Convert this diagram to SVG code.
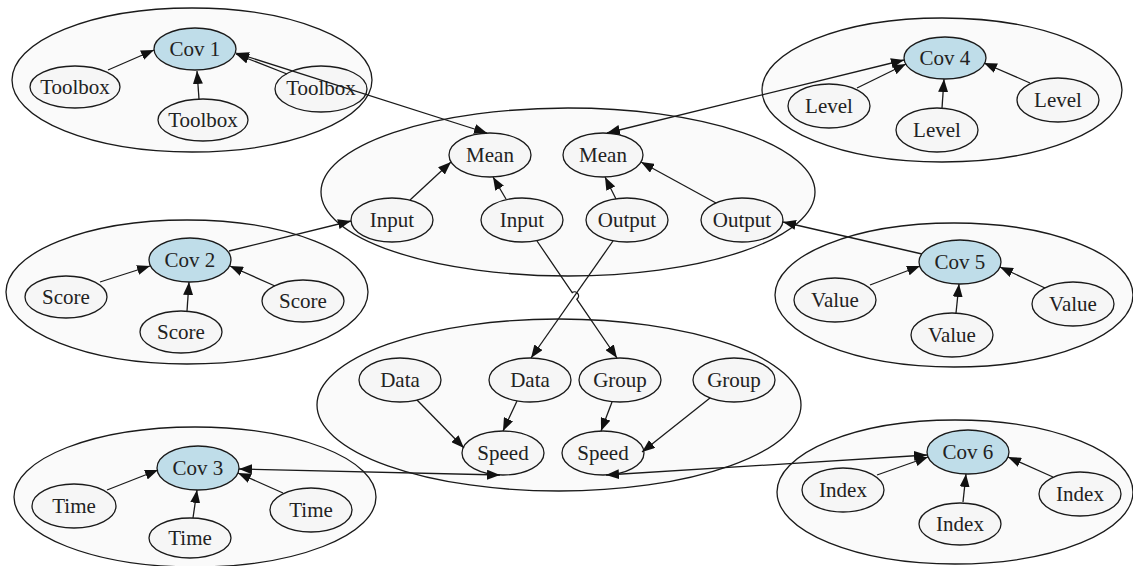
<svg xmlns="http://www.w3.org/2000/svg" width="1133" height="566" viewBox="0 0 1133 566">
<style>
.cl{fill:#fafafa;stroke:#1a1a1a;stroke-width:1.3}
.nd{fill:#f6f6f6;stroke:#1a1a1a;stroke-width:1.3}
.cv{fill:#bfdde9;stroke:#1a1a1a;stroke-width:1.3}
.ed{fill:none;stroke:#1a1a1a;stroke-width:1.3;marker-end:url(#ah)}
.bi{marker-start:url(#ah)}
text{font-family:"Liberation Serif","DejaVu Serif",serif;font-size:21px;fill:#222;text-anchor:middle}
</style>
<defs>
<marker id="ah" viewBox="0 0 13 10" refX="13" refY="5" markerWidth="13" markerHeight="10" markerUnits="userSpaceOnUse" orient="auto-start-reverse">
<path d="M0,0 L13,5 L0,10 z" fill="#111"/>
</marker>
</defs>
<g id="clusters">
<ellipse id="cluster1" class="cl" cx="192" cy="80" rx="180" ry="72"/>
<ellipse id="cluster2" class="cl" cx="187" cy="292" rx="181" ry="72"/>
<ellipse id="cluster3" class="cl" cx="195" cy="497" rx="181" ry="70"/>
<ellipse id="cluster4" class="cl" cx="942" cy="90" rx="180" ry="72"/>
<ellipse id="cluster5" class="cl" cx="954" cy="295" rx="179" ry="72"/>
<ellipse id="cluster6" class="cl" cx="955" cy="492" rx="178" ry="72"/>
<ellipse id="clusterTop" class="cl" cx="568" cy="192" rx="247" ry="84"/>
<ellipse id="clusterBottom" class="cl" cx="559" cy="405" rx="242" ry="86"/>
</g>
<g id="cov1"><ellipse class="cv" cx="195" cy="49" rx="41" ry="21"/><text x="195" y="56">Cov 1</text></g>
<g id="toolbox1"><ellipse class="nd" cx="75" cy="87" rx="45" ry="21"/><text x="75" y="94">Toolbox</text></g>
<g id="toolbox2"><ellipse class="nd" cx="203" cy="120" rx="45" ry="21"/><text x="203" y="127">Toolbox</text></g>
<g id="toolbox3"><ellipse class="nd" cx="321" cy="89" rx="46" ry="23"/><text x="321" y="95">Toolbox</text></g>
<g id="cov2"><ellipse class="cv" cx="190" cy="260" rx="41" ry="22"/><text x="190" y="267">Cov 2</text></g>
<g id="score1"><ellipse class="nd" cx="66" cy="297" rx="41" ry="21"/><text x="66" y="304">Score</text></g>
<g id="score2"><ellipse class="nd" cx="181" cy="332" rx="41" ry="21"/><text x="181" y="339">Score</text></g>
<g id="score3"><ellipse class="nd" cx="303" cy="301" rx="41" ry="21"/><text x="303" y="308">Score</text></g>
<g id="cov3"><ellipse class="cv" cx="198" cy="468" rx="41" ry="22"/><text x="198" y="475">Cov 3</text></g>
<g id="time1"><ellipse class="nd" cx="74" cy="506" rx="42" ry="22"/><text x="74" y="513">Time</text></g>
<g id="time2"><ellipse class="nd" cx="190" cy="538" rx="41" ry="20"/><text x="190" y="545">Time</text></g>
<g id="time3"><ellipse class="nd" cx="311" cy="510" rx="41" ry="22"/><text x="311" y="517">Time</text></g>
<g id="cov4"><ellipse class="cv" cx="945" cy="58" rx="41" ry="21"/><text x="945" y="65">Cov 4</text></g>
<g id="level1"><ellipse class="nd" cx="829" cy="106" rx="41" ry="22"/><text x="829" y="113">Level</text></g>
<g id="level2"><ellipse class="nd" cx="937" cy="130" rx="41" ry="22"/><text x="937" y="137">Level</text></g>
<g id="level3"><ellipse class="nd" cx="1058" cy="100" rx="41" ry="22"/><text x="1058" y="107">Level</text></g>
<g id="cov5"><ellipse class="cv" cx="960" cy="262" rx="41" ry="22"/><text x="960" y="269">Cov 5</text></g>
<g id="value1"><ellipse class="nd" cx="835" cy="300" rx="41" ry="22"/><text x="835" y="307">Value</text></g>
<g id="value2"><ellipse class="nd" cx="952" cy="335" rx="41" ry="22"/><text x="952" y="342">Value</text></g>
<g id="value3"><ellipse class="nd" cx="1073" cy="304" rx="41" ry="22"/><text x="1073" y="311">Value</text></g>
<g id="cov6"><ellipse class="cv" cx="968" cy="452" rx="41" ry="22"/><text x="968" y="459">Cov 6</text></g>
<g id="index1"><ellipse class="nd" cx="843" cy="490" rx="41" ry="22"/><text x="843" y="497">Index</text></g>
<g id="index2"><ellipse class="nd" cx="960" cy="524" rx="41" ry="21"/><text x="960" y="531">Index</text></g>
<g id="index3"><ellipse class="nd" cx="1080" cy="494" rx="41" ry="22"/><text x="1080" y="501">Index</text></g>
<g id="mean1"><ellipse class="nd" cx="490" cy="155" rx="41" ry="22"/><text x="490" y="162">Mean</text></g>
<g id="mean2"><ellipse class="nd" cx="603" cy="155" rx="40" ry="22"/><text x="603" y="162">Mean</text></g>
<g id="input1"><ellipse class="nd" cx="392" cy="220" rx="41" ry="22"/><text x="392" y="227">Input</text></g>
<g id="input2"><ellipse class="nd" cx="522" cy="220" rx="41" ry="22"/><text x="522" y="227">Input</text></g>
<g id="output1"><ellipse class="nd" cx="627" cy="220" rx="41" ry="22"/><text x="627" y="227">Output</text></g>
<g id="output2"><ellipse class="nd" cx="742" cy="220" rx="41" ry="22"/><text x="742" y="227">Output</text></g>
<g id="data1"><ellipse class="nd" cx="400" cy="380" rx="41" ry="22"/><text x="400" y="387">Data</text></g>
<g id="data2"><ellipse class="nd" cx="530" cy="380" rx="41" ry="22"/><text x="530" y="387">Data</text></g>
<g id="group1"><ellipse class="nd" cx="620" cy="380" rx="41" ry="22"/><text x="620" y="387">Group</text></g>
<g id="group2"><ellipse class="nd" cx="734" cy="380" rx="41" ry="22"/><text x="734" y="387">Group</text></g>
<g id="speed1"><ellipse class="nd" cx="503" cy="453" rx="41" ry="22"/><text x="503" y="460">Speed</text></g>
<g id="speed2"><ellipse class="nd" cx="603" cy="453" rx="41" ry="22"/><text x="603" y="460">Speed</text></g>
<g id="connectors">
<line class="ed" x1="108" y1="70" x2="154" y2="50"/>
<line class="ed" x1="199" y1="99" x2="197" y2="71"/>
<line class="ed" x1="287" y1="74" x2="236" y2="54"/>
<line class="ed bi" x1="236" y1="53" x2="487" y2="133"/>
<line class="ed" x1="100" y1="282" x2="150" y2="266"/>
<line class="ed" x1="187" y1="311" x2="189" y2="282"/>
<line class="ed" x1="275" y1="286" x2="230" y2="266"/>
<line class="ed" x1="229" y1="251" x2="351" y2="221"/>
<line class="ed" x1="107" y1="490" x2="158" y2="470"/>
<line class="ed" x1="193" y1="518" x2="197" y2="490"/>
<line class="ed" x1="283" y1="493" x2="238" y2="473"/>
<line class="ed bi" x1="239" y1="469" x2="500" y2="475"/>
<line class="ed" x1="857" y1="88" x2="906" y2="64"/>
<line class="ed" x1="942" y1="108" x2="944" y2="79"/>
<line class="ed" x1="1030" y1="83" x2="984" y2="63"/>
<line class="ed bi" x1="607" y1="133" x2="904" y2="60"/>
<line class="ed" x1="870" y1="285" x2="920" y2="266"/>
<line class="ed" x1="956" y1="313" x2="959" y2="284"/>
<line class="ed" x1="1045" y1="288" x2="1000" y2="267"/>
<line class="ed" x1="922" y1="254" x2="783" y2="222"/>
<line class="ed" x1="877" y1="475" x2="928" y2="457"/>
<line class="ed" x1="963" y1="502" x2="966" y2="474"/>
<line class="ed" x1="1053" y1="477" x2="1008" y2="457"/>
<line class="ed bi" x1="606" y1="475" x2="927" y2="455"/>
<line class="ed" x1="410" y1="200" x2="451" y2="162"/>
<line class="ed" x1="506" y1="199" x2="493" y2="177"/>
<line class="ed" x1="616" y1="199" x2="605" y2="177"/>
<line class="ed" x1="716" y1="203" x2="641" y2="162"/>
<path class="ed" d="M537,241 L572.2,292.6 A4,4 0 0 1 576.8,299.2 L617,358"/>
<line class="ed" x1="613" y1="241" x2="531" y2="358"/>
<line class="ed" x1="417" y1="400" x2="464" y2="448"/>
<line class="ed" x1="517" y1="401" x2="503" y2="431"/>
<line class="ed" x1="612" y1="402" x2="601" y2="431"/>
<line class="ed" x1="710" y1="398" x2="642" y2="452"/>
</g>
</svg>
